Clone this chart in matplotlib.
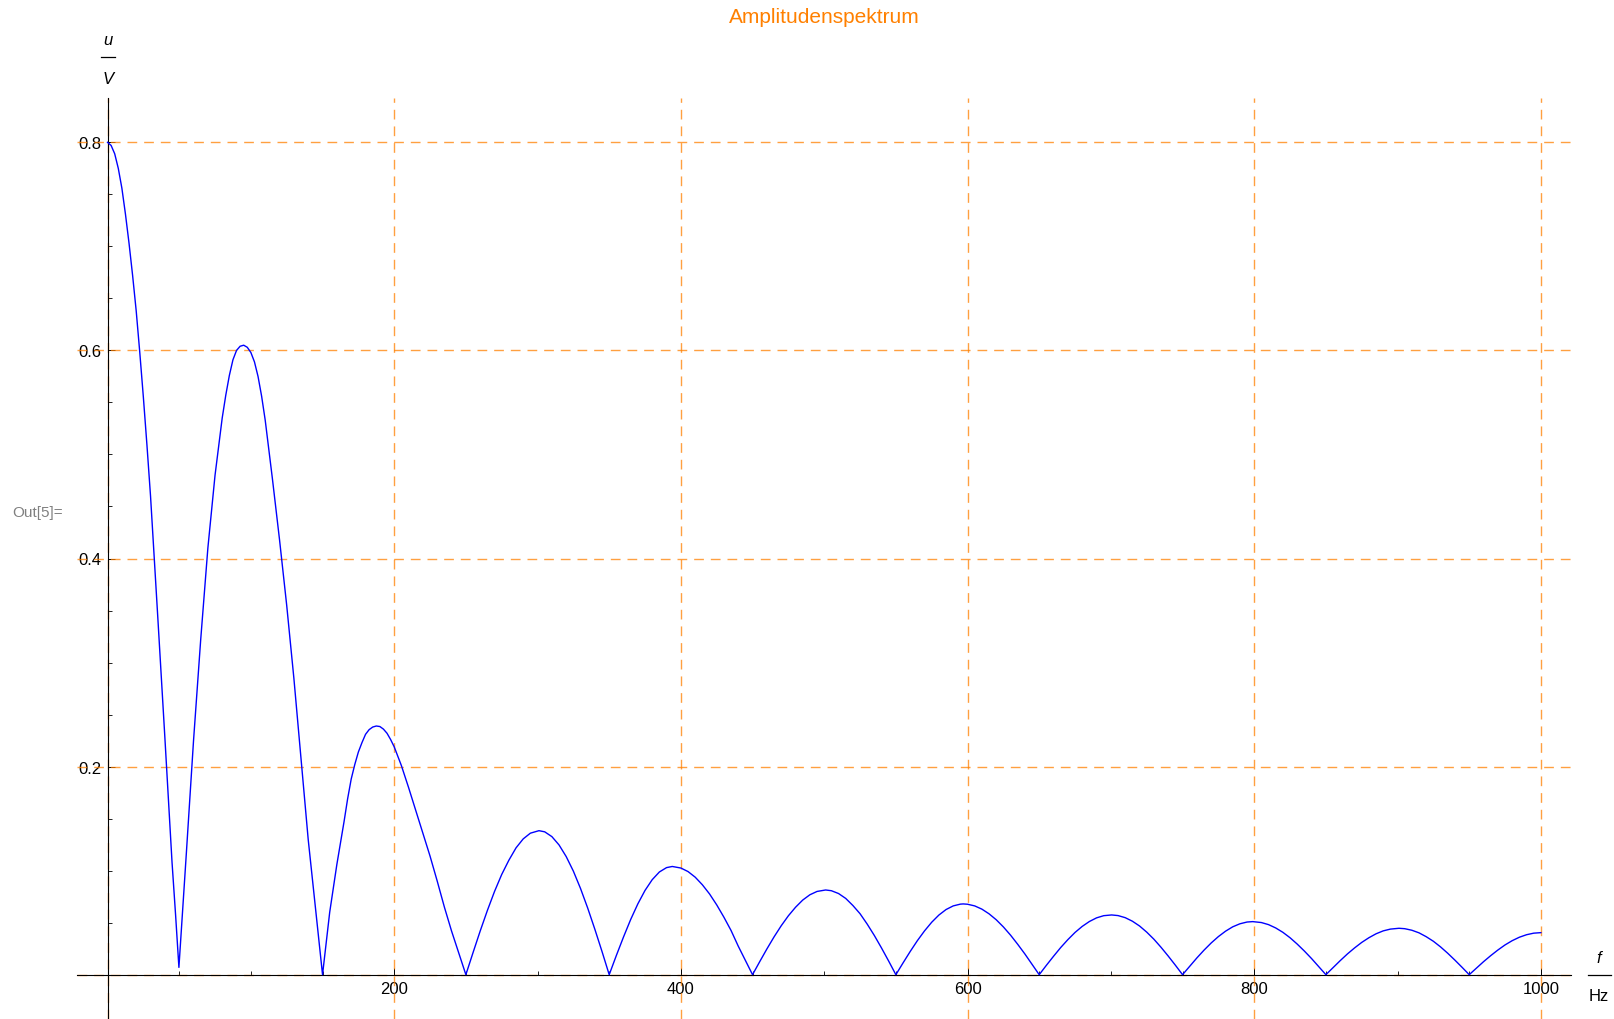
import matplotlib
matplotlib.use('Agg')
import matplotlib.pyplot as plt
from matplotlib.lines import Line2D
from matplotlib.ticker import FixedLocator

plt.rcParams['font.family'] = ['Liberation Sans', 'DejaVu Sans']

# ---- data ----
freq = [0, 2.5, 5, 7.5, 10, 12.5, 15, 17.5, 20, 22.5, 25, 27.5, 30, 32.5, 35, 37.5, 40, 42.5, 45, 47.5, 49.8,
        55, 60, 65, 70, 75, 80, 82.5, 85, 87.5, 90, 92.5, 95, 97.5, 100, 102.5, 105, 107.5, 110, 115, 120, 125,
        130, 135, 140, 145, 150,
        155, 160, 165, 167.5, 170, 172.5, 175, 177.5, 180, 182.5, 185, 187.5, 190, 192.5, 195, 197.5, 200,
        205, 210, 215, 220, 225, 230, 235, 240, 245, 250,
        255, 260, 265, 270, 275, 280, 285, 290, 295, 301, 305, 310, 315, 320, 325, 330, 335, 340, 345, 350,
        355, 360, 365, 370, 375, 380, 385, 390, 394, 400, 405, 410, 415, 420, 425, 430, 435, 440, 445, 450,
        455, 460, 465, 470, 475, 480, 485, 490, 495, 501, 505, 510, 515, 520, 525, 530, 535, 540, 545, 550,
        555, 560, 565, 570, 575, 580, 585, 590, 595, 597, 600, 605, 610, 615, 620, 625, 630, 635, 640, 645, 650,
        655, 660, 665, 670, 675, 680, 685, 690, 695, 700.5, 705, 710, 715, 720, 725, 730, 735, 740, 745, 750,
        755, 760, 765, 770, 775, 780, 785, 790, 795, 799, 805, 810, 815, 820, 825, 830, 835, 840, 845, 850,
        855, 860, 865, 870, 875, 880, 885, 890, 895, 901, 905, 910, 915, 920, 925, 930, 935, 940, 945, 950,
        955, 960, 965, 970, 975, 980, 985, 990, 995, 1000]
amp = [0.800, 0.797, 0.789, 0.775, 0.756, 0.731, 0.703, 0.672, 0.638, 0.598, 0.555, 0.509, 0.460, 0.403, 0.345,
       0.287, 0.228, 0.168, 0.108, 0.057, 0.007,
       0.117, 0.225, 0.322, 0.410, 0.480, 0.535, 0.557, 0.576, 0.591, 0.600, 0.604, 0.605, 0.603, 0.598, 0.589,
       0.575, 0.556, 0.533, 0.477, 0.418, 0.355, 0.285, 0.207, 0.130, 0.065, 0.000,
       0.060, 0.106, 0.147, 0.169, 0.188, 0.202, 0.214, 0.223, 0.231, 0.2355, 0.238, 0.239, 0.2385, 0.236,
       0.232, 0.226, 0.219,
       0.201, 0.180, 0.158, 0.136, 0.114, 0.090, 0.065, 0.042, 0.021, 0.000,
       0.0212, 0.0420, 0.0617, 0.0800, 0.0963, 0.1100, 0.1219, 0.1305, 0.1360, 0.1384,
       0.1373, 0.1327, 0.1247, 0.1135, 0.0995, 0.0828, 0.0640, 0.0436, 0.0222, 0.000,
       0.0185, 0.0363, 0.0531, 0.0681, 0.0810, 0.0913, 0.0987, 0.1029, 0.1040,
       0.1025, 0.0991, 0.0937, 0.0864, 0.0776, 0.0671, 0.0553, 0.0425, 0.0275, 0.0138, 0.000,
       0.0125, 0.0247, 0.0363, 0.0470, 0.0566, 0.0648, 0.0717, 0.0768, 0.0800, 0.0814,
       0.0807, 0.0780, 0.0733, 0.0665, 0.0586, 0.0486, 0.0376, 0.0256, 0.0130, 0.000,
       0.0113, 0.0223, 0.0327, 0.0421, 0.0504, 0.0573, 0.0626, 0.0661, 0.0678, 0.0680,
       0.0677, 0.0661, 0.0630, 0.0585, 0.0528, 0.0459, 0.0380, 0.0292, 0.0199, 0.0100, 0.000,
       0.0090, 0.0177, 0.0261, 0.0337, 0.0406, 0.0464, 0.0511, 0.0546, 0.0567, 0.0574,
       0.0568, 0.0548, 0.0514, 0.0468, 0.0409, 0.0341, 0.0263, 0.0179, 0.0091, 0.000,
       0.0081, 0.0161, 0.0236, 0.0305, 0.0366, 0.0418, 0.0460, 0.0489, 0.0506, 0.0510,
       0.0501, 0.0481, 0.0449, 0.0407, 0.0355, 0.0294, 0.0227, 0.0155, 0.0078, 0.000,
       0.0068, 0.0135, 0.0199, 0.0257, 0.0310, 0.0355, 0.0393, 0.0421, 0.0438, 0.0446,
       0.0442, 0.0427, 0.0402, 0.0365, 0.0321, 0.0267, 0.0206, 0.0140, 0.0071, 0.000,
       0.0063, 0.0125, 0.0183, 0.0237, 0.0286, 0.0327, 0.0360, 0.0384, 0.0399, 0.0404]

x_major = [200, 400, 600, 800, 1000]
x_labels = ['200', '400', '600', '800', '1000']
y_major = [0.2, 0.4, 0.6, 0.8]
y_labels = ['0.2', '0.4', '0.6', '0.8']
x_minor = [50, 100, 150, 250, 300, 350, 450, 500, 550, 650, 700, 750, 850, 900, 950]
y_minor = [0.05, 0.1, 0.15, 0.25, 0.3, 0.35, 0.45, 0.5, 0.55, 0.65, 0.7, 0.75]
x_grid = [0, 200, 400, 600, 800, 1000]
y_grid = [0, 0.2, 0.4, 0.6, 0.8]

title = 'Amplitudenspektrum'
ORANGE = '#FF8000'

W, H = 1615, 1020
fig = plt.figure(figsize=(W / 100, H / 100), dpi=100)
fig.patch.set_facecolor('white')
ax = fig.add_axes([77 / W, 0, (1570.7 - 77) / W, (1020 - 99) / H])
ax.set_xlim(-21.3, 1020.8)
ax.set_ylim(-0.0426, 0.8426)
ax.patch.set_visible(False)

for s in ['top', 'right']:
    ax.spines[s].set_visible(False)
ax.spines['left'].set_position(('data', 0))
ax.spines['bottom'].set_position(('data', 0))
for s in ['left', 'bottom']:
    ax.spines[s].set_linewidth(0.8)
    ax.spines[s].set_color('black')
    ax.spines[s].set_zorder(2.6)

for gx in x_grid:
    ax.axvline(gx, color=ORANGE, alpha=0.75, lw=1.0, ls=(0, (7, 5)), zorder=2.5)
for gy in y_grid:
    ax.axhline(gy, color=ORANGE, alpha=0.75, lw=1.0, ls=(0, (7, 5)), zorder=2.5)

ax.plot(freq, amp, color='#0000FF', lw=1.0, zorder=3)

ax.xaxis.set_major_locator(FixedLocator(x_major))
ax.set_xticklabels(x_labels)
ax.yaxis.set_major_locator(FixedLocator(y_major))
ax.set_yticklabels(y_labels)
ax.xaxis.set_minor_locator(FixedLocator(x_minor))
ax.yaxis.set_minor_locator(FixedLocator(y_minor))
ax.tick_params(axis='both', which='major', direction='in', length=5, width=0.7,
               labelsize=12, color='black', pad=4.5)
ax.tick_params(axis='both', which='minor', direction='in', length=3, width=0.6, color='black')

# title
fig.text(824 / W, 1 - 23 / H, title, color=ORANGE, fontsize=15, ha='center', va='baseline')

# y unit label  u / V
fig.text(108 / W, 1 - 45 / H, 'u', style='italic', fontsize=12, ha='center', va='baseline')
fig.add_artist(Line2D([101 / W, 115 / W], [1 - 58 / H, 1 - 58 / H], color='black', lw=0.9))
fig.text(108 / W, 1 - 84 / H, 'V', style='italic', fontsize=12, ha='center', va='baseline')

# x unit label  f / Hz
fig.text(1599 / W, 1 - 963 / H, 'f', style='italic', fontsize=12, ha='center', va='baseline')
fig.add_artist(Line2D([1588 / W, 1611 / W], [1 - 976 / H, 1 - 976 / H], color='black', lw=0.9))
fig.text(1599 / W, 1 - 1001.5 / H, 'Hz', fontsize=12, ha='center', va='baseline')

# output cell tag
fig.text(12.5 / W, 1 - 517 / H, 'Out[5]=', color='#808080', fontsize=11, ha='left', va='baseline')

fig.savefig('out.png', dpi=100)
